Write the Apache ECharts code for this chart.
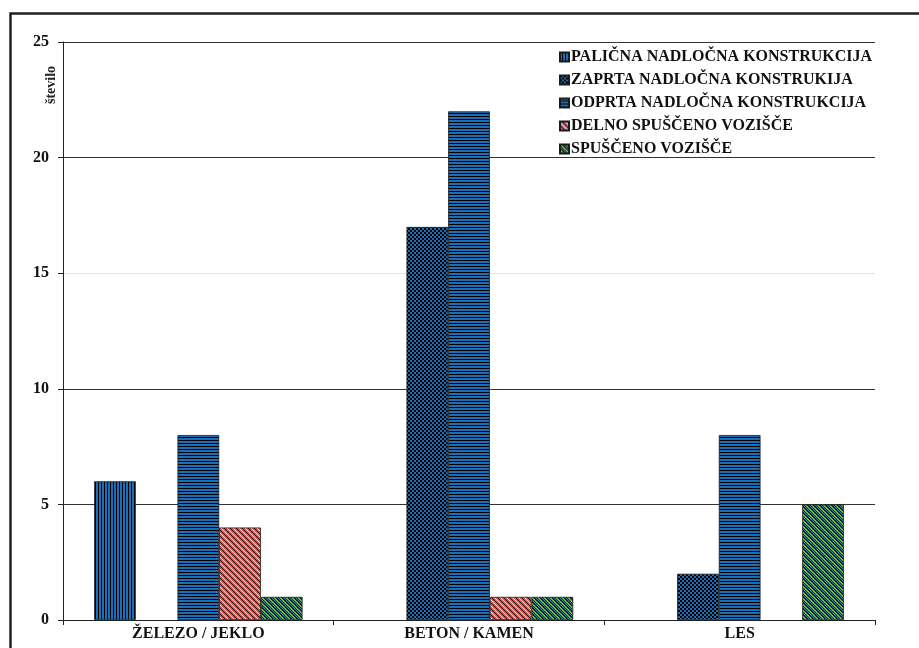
<!DOCTYPE html>
<html>
<head>
<meta charset="utf-8">
<script src="https://cdn.jsdelivr.net/npm/echarts@6/dist/echarts.min.js"></script>
<style>
  html, body { margin: 0; padding: 0; background: #fff; }
  #chart { width: 919px; height: 648px; }
</style>
</head>
<body>
<div id="chart"></div>
<script>
// Bridge counts by material and construction type
const categories = ['ŽELEZO / JEKLO', 'BETON / KAMEN', 'LES'];
const seriesNames = [
  'PALIČNA NADLOČNA KONSTRUKCIJA',
  'ZAPRTA NADLOČNA KONSTRUKIJA',
  'ODPRTA NADLOČNA KONSTRUKCIJA',
  'DELNO SPUŠČENO VOZIŠČE',
  'SPUŠČENO VOZIŠČE'
];
const palicna = [6, 0, 0];
const zaprta = [0, 17, 2];
const odprta = [8, 22, 8];
const delno = [4, 1, 0];
const spusceno = [1, 1, 5];
const yTicks = [0, 5, 10, 15, 20, 25];

const BLUE = '#1c6fb6';
const FONT = 'Liberation Serif';

// Small repeating canvas tiles used as bar fills
function tile(w, h, draw) {
  const c = document.createElement('canvas');
  c.width = w; c.height = h;
  const g = c.getContext('2d');
  draw(g, w, h);
  return { image: c, repeat: 'repeat' };
}
const fillVertical = tile(3, 3, (g) => {
  g.fillStyle = BLUE; g.fillRect(0, 0, 3, 3);
  g.fillStyle = '#000'; g.fillRect(2, 0, 1, 3);
});
const fillChecker = tile(4, 4, (g) => {
  g.fillStyle = BLUE; g.fillRect(0, 0, 4, 4);
  g.fillStyle = '#000'; g.fillRect(0, 0, 2, 2); g.fillRect(2, 2, 2, 2);
});
const fillHorizontal = tile(3, 3, (g) => {
  g.fillStyle = BLUE; g.fillRect(0, 0, 3, 3);
  g.fillStyle = '#000'; g.fillRect(0, 2, 3, 1);
});
function diagonal(colors) {
  const n = colors.length;
  return tile(n, n, (g) => {
    for (let y = 0; y < n; y++) {
      for (let x = 0; x < n; x++) {
        g.fillStyle = colors[((x - y) % n + n) % n];
        g.fillRect(x, y, 1, 1);
      }
    }
  });
}
const fillDelno = diagonal(['#e4564e', '#e4564e', '#111', '#4a88c8', '#e4564e', '#f4f4f4']);
const fillSpusceno = diagonal(['#6cbc3c', '#6cbc3c', '#222', '#222', '#2f86b8', '#222']);

const fills = [fillVertical, fillChecker, fillHorizontal, fillDelno, fillSpusceno];
const values = [palicna, zaprta, odprta, delno, spusceno];

// A zero count gets no outline, so nothing is drawn for it
function barData(arr) {
  return arr.map((v) => (v === 0 ? { value: v, itemStyle: { borderWidth: 0 } } : v));
}

const chart = echarts.init(document.getElementById('chart'), null, { renderer: 'canvas' });
chart.setOption({
  animation: false,
  backgroundColor: '#fff',
  textStyle: { fontFamily: FONT },
  grid: { left: 63, right: 44, top: 42, bottom: 28, containLabel: false },
  legend: {
    orient: 'vertical',
    left: 554,
    top: 44,
    itemWidth: 9,
    itemHeight: 9,
    itemGap: 7,
    icon: 'rect',
    data: seriesNames,
    textStyle: { fontFamily: FONT, fontSize: 16, fontWeight: 'bold', color: '#111', lineHeight: 16, padding: [0, 0, 0, -3] }
  },
  xAxis: {
    type: 'category',
    data: categories,
    axisLine: { lineStyle: { color: '#222', width: 1 } },
    axisTick: { show: true, length: 5, lineStyle: { color: '#222' } },
    axisLabel: { fontFamily: FONT, fontSize: 16, fontWeight: 'bold', color: '#111', margin: 6 }
  },
  yAxis: {
    type: 'value',
    min: yTicks[0],
    max: yTicks[yTicks.length - 1],
    interval: 5,
    axisLine: { show: true, lineStyle: { color: '#222' } },
    axisTick: { show: true, length: 5, lineStyle: { color: '#222' } },
    axisLabel: { fontFamily: FONT, fontSize: 16, fontWeight: 'bold', color: '#111', margin: 14 },
    splitLine: {
      show: true,
      lineStyle: { color: ['#333', '#333', '#333', '#e2e2e2', '#333', '#333'], width: 1.2 }
    }
  },
  series: seriesNames.map((name, i) => ({
    name: name,
    type: 'bar',
    data: barData(values[i]),
    barGap: '0%',
    barCategoryGap: '23%',
    itemStyle: { color: fills[i], borderColor: '#1a1a1a', borderWidth: 0.8 }
  })),
  graphic: [
    {
      type: 'rect',
      left: 8, top: 11,
      shape: { width: 930, height: 660 },
      style: { fill: 'none', stroke: '#222', lineWidth: 2.5 },
      silent: true
    },
    {
      type: 'text',
      x: 44, y: 104,
      rotation: Math.PI / 2,
      style: { text: 'število', font: 'bold 14px "Liberation Serif"', fill: '#222' },
      silent: true
    }
  ]
});
</script>
</body>
</html>
